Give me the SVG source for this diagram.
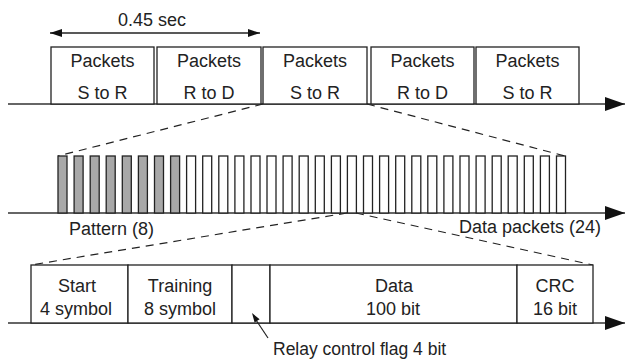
<svg xmlns="http://www.w3.org/2000/svg" width="626" height="361" viewBox="0 0 626 361">
  <style>
    .box { fill: #fff; stroke: #222; stroke-width: 1.3; }
    .axis { fill: none; stroke: #333; stroke-width: 1.4; }
    .dash { fill: none; stroke: #222; stroke-width: 1.2; stroke-dasharray: 8 6; }
    .pat { fill: #a8a8a8; stroke: #222; stroke-width: 1.3; }
    .dat { fill: #fff; stroke: #222; stroke-width: 1.3; }
    .head { fill: #111; }
    text { font-family: "Liberation Sans", Arial, sans-serif; font-size: 18px; fill: #222; }
    .c { text-anchor: middle; }
    .note { font-size: 17.5px; }
  </style>
  <defs>
    <marker id="arrow" viewBox="0 0 20 14" refX="20" refY="7" markerWidth="20" markerHeight="14" markerUnits="userSpaceOnUse" orient="auto">
      <path d="M0,0 L20,7 L0,14 Z" fill="#111"/>
    </marker>
    <marker id="tip" viewBox="0 0 12 8" refX="12" refY="4" markerWidth="12" markerHeight="8" markerUnits="userSpaceOnUse" orient="auto-start-reverse">
      <path d="M0,0 L12,4 L0,8 Z" fill="#111"/>
    </marker>
    <rect id="pulse" width="9" height="57"/>
  </defs>

  <!-- timelines and guides -->
  <g id="connectors">
    <line class="axis" x1="8" y1="104" x2="625" y2="104" marker-end="url(#arrow)"/>
    <line class="axis" x1="8" y1="213" x2="625" y2="213" marker-end="url(#arrow)"/>
    <line class="axis" x1="8" y1="323" x2="625" y2="323" marker-end="url(#arrow)"/>
    <!-- period span -->
    <line x1="50" y1="33" x2="260" y2="33" stroke="#222" stroke-width="1.3" marker-start="url(#tip)" marker-end="url(#tip)"/>
    <!-- zoom guides -->
    <line class="dash" x1="263" y1="104" x2="58" y2="156"/>
    <line class="dash" x1="367" y1="104" x2="565" y2="156"/>
    <line class="dash" x1="347" y1="213" x2="31" y2="265"/>
    <line class="dash" x1="356" y1="213" x2="593" y2="265"/>
  </g>

  <text class="c" x="152" y="26">0.45 sec</text>

  <!-- packet slots -->
  <g id="slot1">
    <rect class="box" x="51" y="47" width="103" height="57"/>
    <text class="c" x="102.5" y="67">Packets</text>
    <text class="c" x="102.5" y="99">S to R</text>
  </g>
  <g id="slot2">
    <rect class="box" x="157" y="47" width="104" height="57"/>
    <text class="c" x="209" y="67">Packets</text>
    <text class="c" x="209" y="99">R to D</text>
  </g>
  <g id="slot3">
    <rect class="box" x="263" y="47" width="104" height="57"/>
    <text class="c" x="315" y="67">Packets</text>
    <text class="c" x="315" y="99">S to R</text>
  </g>
  <g id="slot4">
    <rect class="box" x="371" y="47" width="103" height="57"/>
    <text class="c" x="422.5" y="67">Packets</text>
    <text class="c" x="422.5" y="99">R to D</text>
  </g>
  <g id="slot5">
    <rect class="box" x="476" y="47" width="103" height="57"/>
    <text class="c" x="527.5" y="67">Packets</text>
    <text class="c" x="527.5" y="99">S to R</text>
  </g>

  <!-- symbol train: 8 pattern + 24 data -->
  <g id="pattern">
    <use href="#pulse" class="pat" x="58" y="156"/>
    <use href="#pulse" class="pat" x="74.1" y="156"/>
    <use href="#pulse" class="pat" x="90.2" y="156"/>
    <use href="#pulse" class="pat" x="106.2" y="156"/>
    <use href="#pulse" class="pat" x="122.3" y="156"/>
    <use href="#pulse" class="pat" x="138.4" y="156"/>
    <use href="#pulse" class="pat" x="154.5" y="156"/>
    <use href="#pulse" class="pat" x="170.6" y="156"/>
  </g>
  <g id="data-packets">
    <use href="#pulse" class="dat" x="186.6" y="156"/>
    <use href="#pulse" class="dat" x="202.7" y="156"/>
    <use href="#pulse" class="dat" x="218.8" y="156"/>
    <use href="#pulse" class="dat" x="234.9" y="156"/>
    <use href="#pulse" class="dat" x="251" y="156"/>
    <use href="#pulse" class="dat" x="267" y="156"/>
    <use href="#pulse" class="dat" x="283.1" y="156"/>
    <use href="#pulse" class="dat" x="299.2" y="156"/>
    <use href="#pulse" class="dat" x="315.3" y="156"/>
    <use href="#pulse" class="dat" x="331.4" y="156"/>
    <use href="#pulse" class="dat" x="347.4" y="156"/>
    <use href="#pulse" class="dat" x="363.5" y="156"/>
    <use href="#pulse" class="dat" x="379.6" y="156"/>
    <use href="#pulse" class="dat" x="395.7" y="156"/>
    <use href="#pulse" class="dat" x="411.8" y="156"/>
    <use href="#pulse" class="dat" x="427.8" y="156"/>
    <use href="#pulse" class="dat" x="443.9" y="156"/>
    <use href="#pulse" class="dat" x="460" y="156"/>
    <use href="#pulse" class="dat" x="476.1" y="156"/>
    <use href="#pulse" class="dat" x="492.2" y="156"/>
    <use href="#pulse" class="dat" x="508.2" y="156"/>
    <use href="#pulse" class="dat" x="524.3" y="156"/>
    <use href="#pulse" class="dat" x="540.4" y="156"/>
    <use href="#pulse" class="dat" x="556.5" y="156"/>
  </g>
  <text x="69" y="235">Pattern (8)</text>
  <text x="459" y="233">Data packets (24)</text>

  <!-- packet format -->
  <g id="start">
    <rect class="box" x="31" y="265" width="97" height="58"/>
    <text class="c" x="77" y="292">Start</text>
    <text class="c" x="76" y="315">4 symbol</text>
  </g>
  <g id="training">
    <rect class="box" x="128" y="265" width="104" height="58"/>
    <text class="c" x="180" y="292">Training</text>
    <text class="c" x="180" y="315">8 symbol</text>
  </g>
  <g id="relay-flag">
    <rect class="box" x="232" y="265" width="38" height="58"/>
  </g>
  <g id="data">
    <rect class="box" x="270" y="265" width="247" height="58"/>
    <text class="c" x="394" y="292">Data</text>
    <text class="c" x="393" y="315">100 bit</text>
  </g>
  <g id="crc">
    <rect class="box" x="517" y="265" width="76" height="58"/>
    <text class="c" x="555" y="292">CRC</text>
    <text class="c" x="555" y="315">16 bit</text>
  </g>

  <!-- relay flag pointer, drawn over the field box -->
  <g id="relay-pointer">
    <line x1="268" y1="338" x2="256" y2="320" stroke="#222" stroke-width="1.2"/>
    <path class="head" d="M252,313 L259.6,319.2 L254.6,322.6 Z"/>
  </g>
  <text class="note" x="273" y="355">Relay control flag 4 bit</text>
</svg>
